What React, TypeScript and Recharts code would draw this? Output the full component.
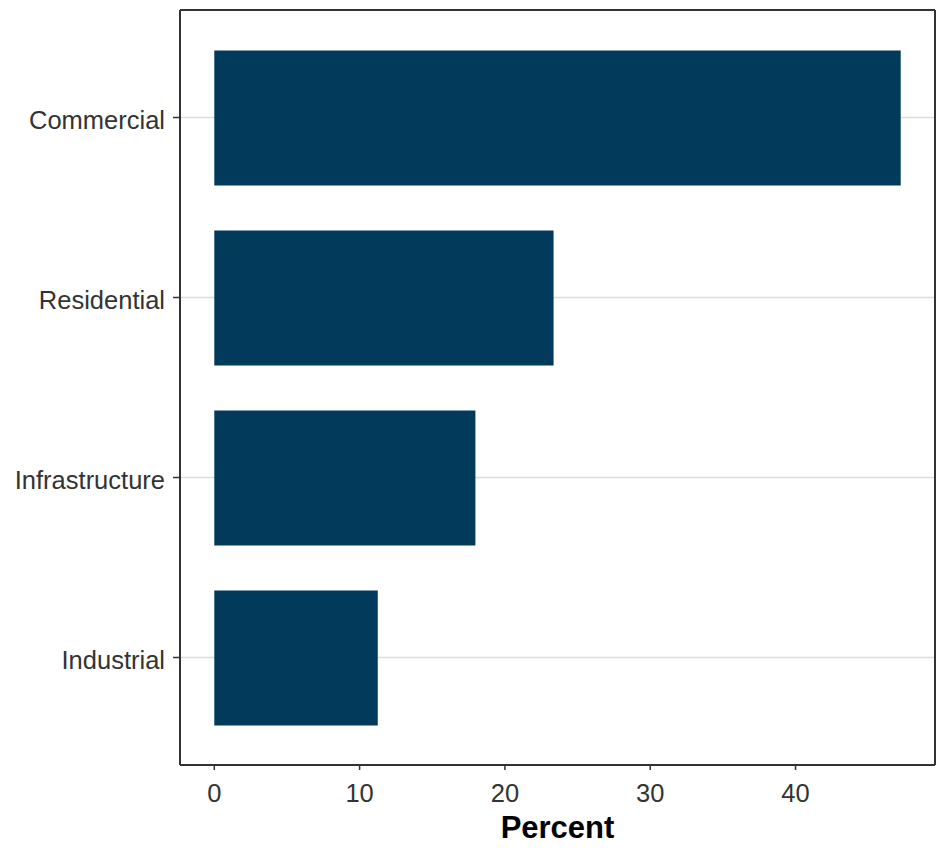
import React from "react";
import { BarChart, Bar, XAxis, YAxis, CartesianGrid } from "recharts";

const sectors = ["Commercial", "Residential", "Infrastructure", "Industrial"];
const percents = [47.24, 23.35, 17.97, 11.25];
const xTicks = [0, 10, 20, 30, 40];
const xDomain: [number, number] = [-2.36, 49.6];

const data = sectors.map((name, i) => ({ name, value: percents[i] }));

const FONT = '"Liberation Sans", Arial, sans-serif';
const INK = "#333333";
const BAR = "#023a5b";

// panel frame: lines on the plot-area edges, taken from the chart's own offset
const frameRows = ({ offset }: any) => [offset.top, offset.top + offset.height];
const frameCols = ({ offset }: any) => [offset.left, offset.left + offset.width];

export default function App() {
  return (
    <div style={{ position: "absolute", left: 0, top: 0, background: "#fff" }}>
      <BarChart
        width={948}
        height={851}
        data={data}
        layout="vertical"
        margin={{ top: 10, right: 13, bottom: 0, left: 0 }}
      >
        <CartesianGrid vertical={false} stroke="#dcdcdc" strokeWidth={1.5} />
        <XAxis
          type="number"
          domain={xDomain}
          ticks={xTicks}
          allowDataOverflow
          height={86}
          tickSize={5}
          tickMargin={14}
          axisLine={{ stroke: INK, strokeWidth: 1.5 }}
          tickLine={{ stroke: INK, strokeWidth: 1.5 }}
          tick={{ fill: INK, fontSize: 25.5, fontFamily: FONT }}
          label={{
            value: "Percent",
            position: "insideBottom",
            offset: 13,
            style: { fill: "#000", fontSize: 31, fontWeight: "bold", fontFamily: FONT },
          }}
        />
        <YAxis
          type="category"
          dataKey="name"
          width={180}
          padding={{ top: 17.5, bottom: 17.5 }}
          tickSize={7}
          tickMargin={8}
          axisLine={{ stroke: INK, strokeWidth: 1.5 }}
          tickLine={{ stroke: INK, strokeWidth: 1.5 }}
          tick={{ fill: INK, fontSize: 25.5, fontFamily: FONT, dy: 2 }}
        />
        <Bar dataKey="value" fill={BAR} barSize={135} isAnimationActive={false} />
        <CartesianGrid
          stroke={INK}
          strokeWidth={2}
          horizontalCoordinatesGenerator={frameRows}
          verticalCoordinatesGenerator={frameCols}
        />
      </BarChart>
    </div>
  );
}
